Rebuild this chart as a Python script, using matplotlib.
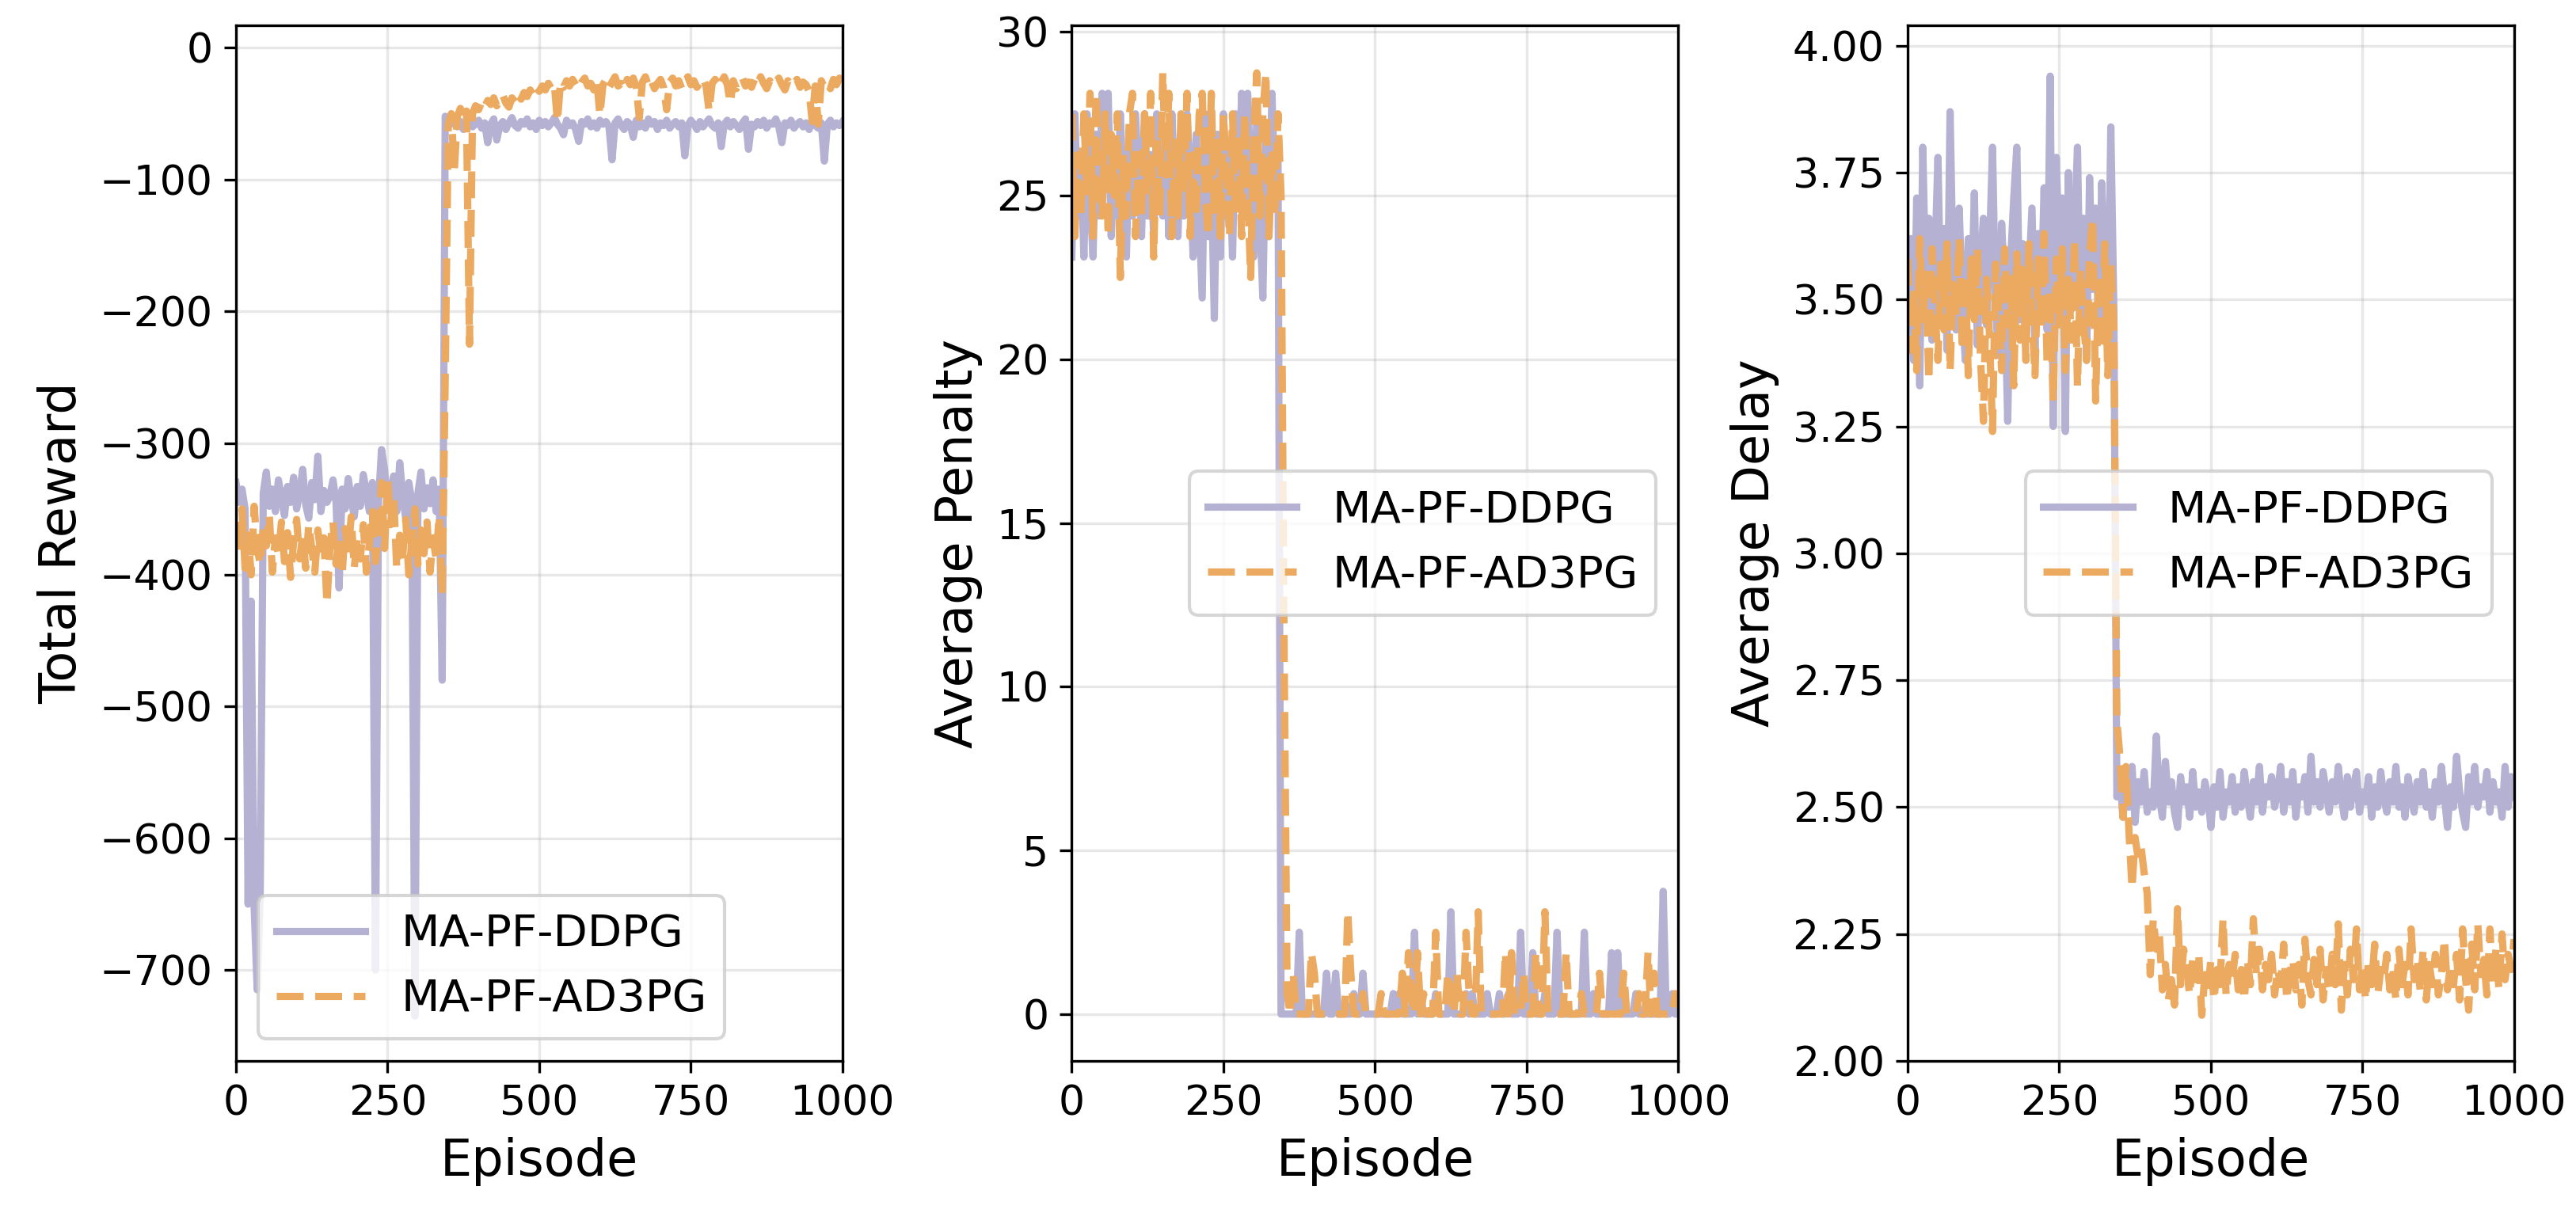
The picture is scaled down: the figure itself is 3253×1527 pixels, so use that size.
import numpy as np
import matplotlib
matplotlib.use("Agg")
import matplotlib.pyplot as plt

# Values, one sample every 5 episodes (0 .. 1000)
STEP = 5
labels = ["MA-PF-DDPG", "MA-PF-AD3PG"]
colors = ["#b5b1d3", "#ebaa5f"]

ddpg_reward = [
    -330, -345, -335, -350, -650, -420, -652, -715, -640, -338,
    -322, -348, -335, -352, -328, -342, -355, -333, -345, -326,
    -350, -338, -320, -347, -357, -330, -343, -310, -352, -336,
    -345, -340, -328, -345, -410, -335, -350, -327, -342, -356,
    -333, -348, -324, -338, -352, -330, -700, -345, -305, -320,
    -350, -336, -325, -352, -315, -340, -358, -330, -345, -735,
    -338, -322, -350, -334, -346, -328, -352, -335, -480, -52,
    -55, -58, -54, -60, -56, -62, -57, -53, -60, -58,
    -55, -61, -57, -72, -58, -54, -70, -59, -56, -62,
    -57, -53, -59, -61, -56, -58, -54, -60, -57, -62,
    -55, -59, -56, -60, -57, -53, -58, -61, -66, -55,
    -59, -57, -62, -71, -56, -58, -54, -60, -57, -61,
    -55, -58, -56, -60, -85, -57, -54, -59, -62, -56,
    -58, -68, -55, -60, -57, -61, -54, -58, -56, -62,
    -57, -59, -55, -61, -58, -56, -60, -57, -82, -59,
    -55, -58, -62, -56, -60, -57, -54, -59, -61, -57,
    -75, -58, -55, -60, -56, -59, -62, -57, -54, -77,
    -58, -60, -56, -59, -55, -61, -57, -58, -54, -60,
    -72, -57, -59, -55, -61, -58, -56, -60, -57, -62,
    -55, -59, -61, -57, -86, -58, -55, -60, -57, -59,
    -56,
]

ad3pg_reward = [
    -360, -385, -350, -395, -370, -400, -348, -380, -392, -365,
    -378, -355, -398, -372, -385, -360, -390, -368, -402, -375,
    -358, -388, -370, -395, -362, -380, -398, -366, -384, -372,
    -422, -378, -360, -392, -370, -400, -365, -383, -356, -395,
    -372, -388, -362, -398, -376, -352, -390, -368, -330, -380,
    -327, -362, -340, -395, -370, -385, -358, -400, -374, -350,
    -392, -366, -384, -360, -398, -372, -388, -355, -415, -250,
    -58, -50, -93, -52, -46, -55, -48, -225, -50, -44,
    -47, -41, -45, -40, -43, -38, -44, -40, -36, -42,
    -45, -38, -41, -35, -39, -34, -37, -32, -36, -30,
    -33, -29, -32, -27, -31, -28, -56, -26, -30, -25,
    -29, -24, -28, -31, -26, -23, -29, -27, -32, -25,
    -51, -28, -24, -30, -26, -22, -29, -27, -31, -24,
    -28, -23, -30, -53, -26, -22, -29, -25, -31, -27,
    -24, -30, -47, -26, -23, -29, -25, -31, -27, -22,
    -28, -25, -30, -26, -23, -29, -48, -27, -24, -30,
    -26, -22, -28, -42, -25, -31, -27, -23, -29, -26,
    -30, -24, -28, -22, -27, -31, -25, -29, -26, -23,
    -28, -32, -25, -29, -27, -24, -30, -26, -28, -33,
    -56, -29, -58, -25, -30, -27, -31, -24, -28, -23,
    -30,
]

ddpg_penalty = [
    23.125, 27.5, 24.375, 26.25, 23.125, 27.5, 25.0, 23.125, 26.875, 24.375,
    28.125, 25.625, 28.125, 23.75, 26.25, 24.375, 27.5, 25.0, 23.125, 26.875,
    24.375, 27.5, 25.625, 23.75, 27.5, 24.375, 26.25, 23.75, 27.5, 25.0,
    24.375, 26.875, 23.75, 27.5, 25.0, 23.75, 26.875, 24.375, 27.5, 25.625,
    23.125, 26.875, 24.375, 21.875, 27.5, 23.75, 25.625, 21.25, 26.875, 23.125,
    27.5, 24.375, 26.25, 23.125, 27.5, 25.0, 28.125, 24.375, 28.125, 25.625,
    23.125, 27.5, 24.375, 21.875, 26.875, 23.75, 28.125, 25.0, 26.25, 0.0,
    0, 0, 0, 0, 0, 2.5, 0, 0, 0, 0,
    0, 0, 0, 0, 1.25, 0, 0, 1.25, 0, 0,
    0, 0, 0, 0.625, 0, 0, 1.25, 0, 0, 0,
    0, 0, 0, 0, 0, 0, 0.625, 0, 0.625, 0,
    0, 0, 0, 2.5, 0, 0.625, 0, 0, 0, 0,
    0.625, 0, 0, 0, 0, 3.125, 0, 0, 0, 0,
    0.625, 0, 0.625, 0, 0, 0, 0, 0.625, 0, 0,
    0, 0.625, 0, 0, 0.625, 0, 0, 0, 2.5, 0,
    0, 0, 1.875, 0, 0, 0, 0.625, 0, 0, 0,
    2.5, 0, 0, 0, 0, 0, 0, 0, 0, 2.5,
    0, 0, 0.625, 0, 0, 0, 0, 0, 1.875, 0,
    1.875, 0, 0, 0, 0, 0, 0.625, 0, 0, 0,
    0, 0, 0, 0, 0, 3.75, 0, 0, 0.625, 0,
    0,
]

ad3pg_penalty = [
    27.5, 23.75, 26.25, 24.375, 27.5, 25.0, 28.125, 23.75, 28.125, 25.625,
    24.375, 27.5, 23.75, 26.875, 25.0, 27.5, 22.5, 26.25, 24.375, 27.5,
    28.125, 23.75, 26.25, 24.375, 27.5, 25.0, 28.125, 23.125, 26.875, 24.375,
    28.75, 25.625, 28.125, 23.75, 26.875, 24.375, 27.5, 25.0, 28.125, 23.75,
    26.25, 24.375, 27.5, 28.125, 25.0, 23.75, 28.125, 24.375, 26.875, 23.75,
    27.5, 25.625, 23.75, 27.5, 24.375, 26.875, 23.75, 27.5, 25.0, 22.5,
    26.875, 28.75, 24.375, 27.5, 28.75, 23.75, 26.25, 24.375, 27.5, 25.0,
    11.25, 0.625, 0, 1.25, 0, 0, 0, 0, 0, 1.875,
    1.25, 0, 0, 0, 0, 0, 0, 0, 0, 0,
    0, 3.125, 1.25, 0, 0, 0, 0.625, 0, 0, 0,
    0, 0, 0.625, 0, 0, 0, 0, 0, 0, 1.25,
    0, 1.875, 0.625, 0, 1.875, 0, 0.625, 0, 0, 0,
    2.5, 0, 0, 0, 1.25, 0.625, 0, 1.25, 0, 0,
    2.5, 0.625, 0, 0, 3.125, 0, 0, 0, 0, 0,
    0, 0, 0, 1.875, 0, 1.875, 0, 0, 0, 1.25,
    0, 0, 0, 1.875, 0, 0, 3.125, 0, 0, 0,
    0, 0, 0, 1.875, 0, 0, 0, 0, 0.625, 0,
    0, 0, 0, 0, 1.25, 0, 0, 0, 0, 0,
    0, 0, 1.25, 0, 0, 0, 0, 0.625, 0, 0,
    1.875, 0, 1.25, 0, 0, 0, 0, 0, 0, 0.625,
    0,
]

ddpg_delay = [
    3.45, 3.62, 3.38, 3.70, 3.33, 3.80, 3.52, 3.66, 3.42, 3.58,
    3.78, 3.47, 3.64, 3.40, 3.87, 3.55, 3.44, 3.68, 3.50, 3.38,
    3.62, 3.47, 3.71, 3.41, 3.57, 3.66, 3.45, 3.60, 3.80, 3.48,
    3.39, 3.65, 3.52, 3.26, 3.58, 3.70, 3.80, 3.46, 3.61, 3.42,
    3.55, 3.68, 3.40, 3.63, 3.49, 3.72, 3.44, 3.94, 3.25, 3.78,
    3.58, 3.70, 3.24, 3.75, 3.48, 3.63, 3.80, 3.45, 3.66, 3.38,
    3.74, 3.52, 3.68, 3.42, 3.73, 3.55, 3.40, 3.84, 3.48, 2.52,
    2.56, 2.48, 2.54, 2.50, 2.58, 2.47, 2.55, 2.51, 2.57, 2.49,
    2.53, 2.50, 2.64, 2.52, 2.48, 2.59, 2.51, 2.55, 2.49, 2.46,
    2.56, 2.51, 2.54, 2.48, 2.57, 2.50, 2.53, 2.49, 2.55, 2.52,
    2.46, 2.54, 2.50, 2.57, 2.48, 2.53, 2.51, 2.56, 2.49, 2.54,
    2.50, 2.57, 2.52, 2.48, 2.55, 2.51, 2.58, 2.49, 2.54, 2.52,
    2.56, 2.50, 2.53, 2.58, 2.49, 2.55, 2.51, 2.57, 2.48, 2.54,
    2.52, 2.56, 2.49, 2.60, 2.51, 2.55, 2.50, 2.57, 2.53, 2.49,
    2.55, 2.51, 2.58, 2.52, 2.48, 2.56, 2.50, 2.54, 2.57, 2.49,
    2.53, 2.51, 2.56, 2.48, 2.54, 2.50, 2.57, 2.52, 2.49, 2.55,
    2.51, 2.58, 2.50, 2.54, 2.48, 2.56, 2.52, 2.49, 2.55, 2.51,
    2.57, 2.50, 2.53, 2.48, 2.55, 2.51, 2.58, 2.52, 2.46, 2.54,
    2.50, 2.60, 2.53, 2.49, 2.46, 2.56, 2.51, 2.58, 2.50, 2.54,
    2.52, 2.57, 2.49, 2.55, 2.51, 2.53, 2.48, 2.58, 2.50, 2.56,
    2.52,
]

ad3pg_delay = [
    3.58, 3.40, 3.52, 3.36, 3.62, 3.45, 3.55, 3.34, 3.60, 3.48,
    3.38, 3.57, 3.44, 3.61, 3.36, 3.53, 3.47, 3.62, 3.40, 3.55,
    3.35, 3.58, 3.46, 3.60, 3.39, 3.26, 3.54, 3.43, 3.24, 3.57,
    3.48, 3.36, 3.60, 3.45, 3.55, 3.33, 3.59, 3.42, 3.56, 3.38,
    3.61, 3.47, 3.35, 3.58, 3.44, 3.63, 3.37, 3.52, 3.30, 3.58,
    3.45, 3.60, 3.36, 3.54, 3.42, 3.62, 3.33, 3.56, 3.46, 3.38,
    3.59, 3.66, 3.30, 3.55, 3.40, 3.61, 3.35, 3.57, 3.45, 2.67,
    2.60, 2.48, 2.58, 2.45, 2.34, 2.44, 2.40, 2.42, 2.37, 2.33,
    2.17, 2.28, 2.22, 2.25, 2.14, 2.19, 2.12, 2.16, 2.11, 2.30,
    2.15, 2.22, 2.18, 2.13, 2.20, 2.16, 2.21, 2.09, 2.17, 2.14,
    2.20, 2.12, 2.18, 2.15, 2.28, 2.13, 2.19, 2.16, 2.21, 2.14,
    2.18, 2.12, 2.20, 2.15, 2.28, 2.17, 2.22, 2.14, 2.19, 2.16,
    2.21, 2.13, 2.18, 2.15, 2.23, 2.12, 2.17, 2.20, 2.14, 2.19,
    2.11, 2.24, 2.16, 2.13, 2.20, 2.15, 2.22, 2.12, 2.18, 2.14,
    2.21, 2.15, 2.27, 2.10, 2.19, 2.13, 2.22, 2.16, 2.26, 2.14,
    2.19, 2.12, 2.20, 2.15, 2.23, 2.13, 2.18, 2.16, 2.21, 2.14,
    2.18, 2.12, 2.22, 2.15, 2.19, 2.13, 2.26, 2.16, 2.20, 2.14,
    2.22, 2.12, 2.19, 2.15, 2.21, 2.13, 2.17, 2.24, 2.14, 2.19,
    2.15, 2.21, 2.12, 2.26, 2.16, 2.10, 2.23, 2.14, 2.27, 2.17,
    2.20, 2.13, 2.26, 2.15, 2.22, 2.14, 2.25, 2.16, 2.21, 2.18,
    2.24,
]

panels = [
    ("Total Reward", ddpg_reward, ad3pg_reward, (-769, 17), None, "lower left"),
    ("Average Penalty", ddpg_penalty, ad3pg_penalty, (-1.43, 30.2), None, "center right"),
    ("Average Delay", ddpg_delay, ad3pg_delay, (2.0, 4.04), 0.25, "center right"),
]

fig, axes = plt.subplots(1, 3, figsize=(3253 / 300, 1527 / 300), dpi=300)
fig.subplots_adjust(left=0.0916, right=0.976, bottom=0.1225, top=0.979, wspace=0.378)

for ax, (ylabel, y_ddpg, y_ad3pg, ylim, ystep, loc) in zip(axes, panels):
    x1 = np.arange(len(y_ddpg)) * STEP
    x2 = np.arange(len(y_ad3pg)) * STEP
    ax.plot(x1, y_ddpg, color=colors[0], linewidth=2.2, label=labels[0])
    ax.plot(x2, y_ad3pg, color=colors[1], linewidth=2.2, linestyle="--", label=labels[1])

    ax.set_xlim(0, 1000)
    ax.set_ylim(*ylim)
    ax.set_xticks([0, 250, 500, 750, 1000])
    if ystep:
        ax.set_yticks(np.arange(2.0, 4.01, ystep))
    ax.grid(True, alpha=0.3)
    ax.tick_params(labelsize=12.5)
    ax.set_xlabel("Episode", fontsize=15.3)
    ax.set_ylabel(ylabel, fontsize=15.3)
    ax.legend(loc=loc, fontsize=13.5)

fig.savefig("out.png", dpi=300)
